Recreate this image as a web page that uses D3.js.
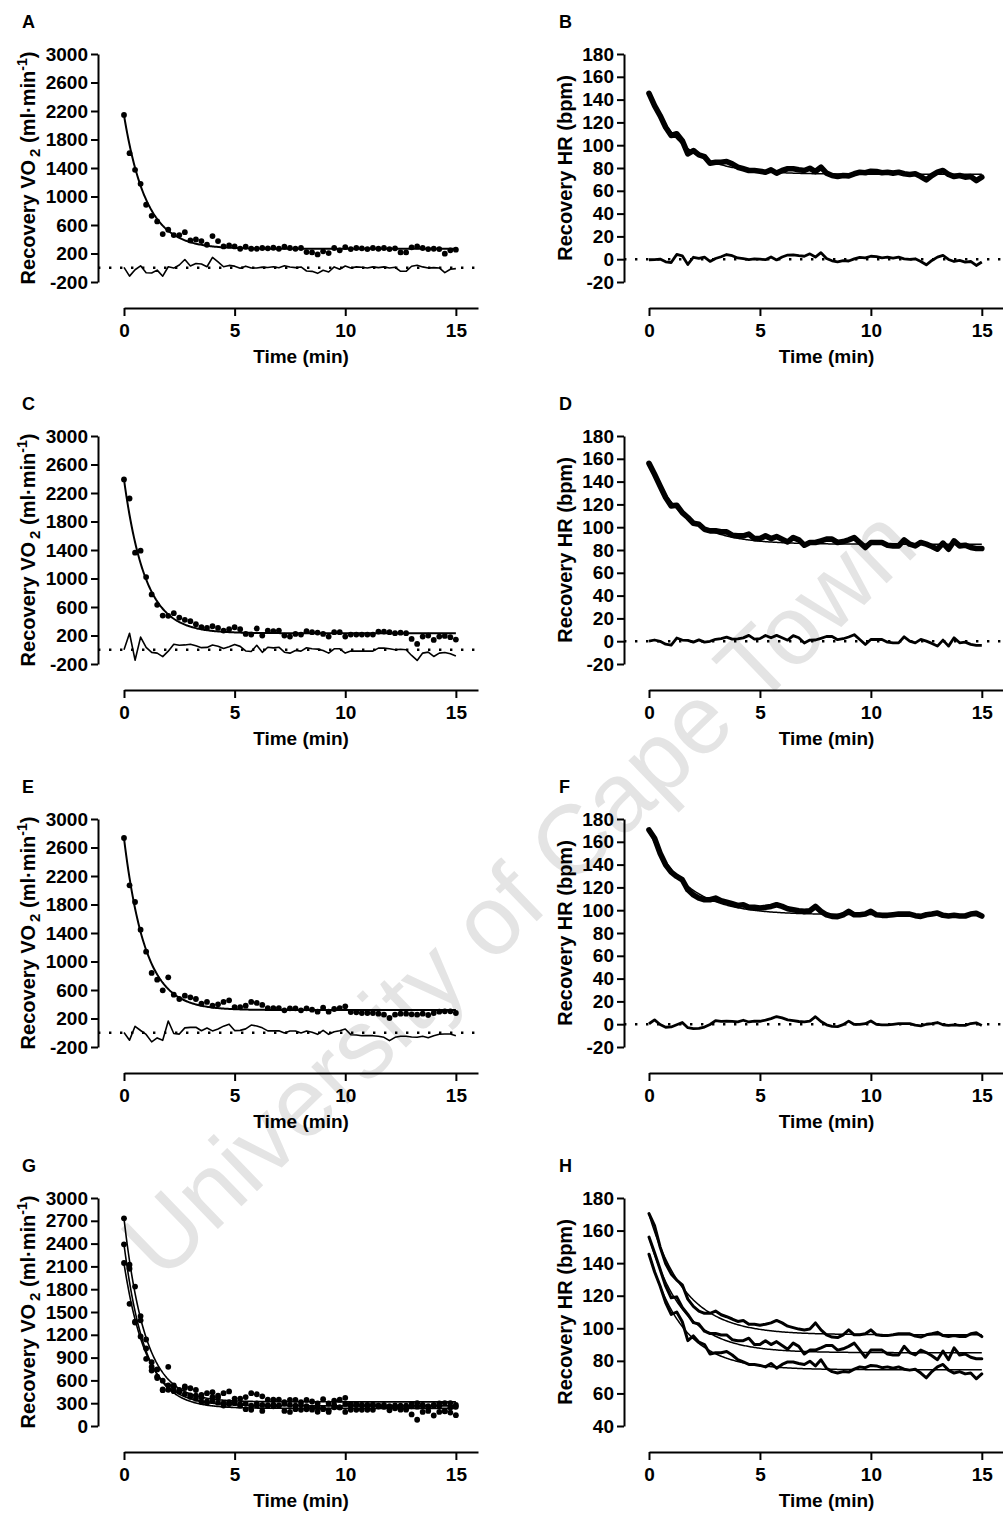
<!DOCTYPE html>
<html>
<head>
<meta charset="utf-8">
<script src="https://cdn.jsdelivr.net/npm/d3@7"></script>
<style>
	body { margin: 0; background: #ffffff; }
	svg text { font-family: 'Liberation Sans', Arial, sans-serif; font-weight: bold; fill: #000000; }
</style>
</head>
<body>
<svg id="chart" width="1003" height="1513"></svg>
<script>

// sample times (min), one value every 15 s
var aTime = [0,0.25,0.5,0.75,1,1.25,1.5,1.75,2,2.25,2.5,2.75,3,3.25,3.5,3.75,4,4.25,4.5,4.75,5,5.25,5.5,5.75,6,6.25,6.5,6.75,7,7.25,7.5,7.75,8,8.25,8.5,8.75,9,9.25,9.5,9.75,10,10.25,10.5,10.75,11,11.25,11.5,11.75,12,12.25,12.5,12.75,13,13.25,13.5,13.75,14,14.25,14.5,14.75,15];

// recovery VO2 (ml/min), panels A, C, E
var aVo2A = [2145,1608,1374,1178,884,729,650,472,533,458,458,500,384,398,374,323,444,374,300,314,300,267,295,267,267,277,272,281,267,295,277,267,277,220,215,187,230,206,277,244,290,262,277,272,262,277,267,277,262,272,215,215,286,300,277,262,267,262,197,244,253];
var aVo2C = [2390,2123,1362,1391,1020,776,631,480,476,513,452,420,401,358,316,307,330,307,269,288,316,288,222,213,298,199,269,260,269,199,185,222,213,260,246,241,222,185,246,246,185,213,213,213,213,213,255,255,246,232,240,232,152,82,185,199,138,185,194,176,143];
var aVo2E = [2733,2069,1835,1447,1138,839,745,596,778,535,474,521,497,474,408,432,380,399,432,455,361,361,380,432,418,390,347,347,347,315,343,343,315,343,324,296,352,296,333,347,371,291,287,277,277,277,268,254,207,254,268,268,259,254,268,249,277,296,301,301,277];

// recovery HR (bpm), panels B, D, F
var aHrB = [145.5,134.7,126,115.8,108.5,110,104,92.4,95.3,91.5,90,84.2,85,85,85.7,83.6,80.7,79.3,77.8,77.8,77.2,76.3,78.4,75.5,77.8,79.3,79.3,78.4,77.8,79.8,76.9,80.7,75.5,73.4,72.5,73.4,73.1,74.9,76.3,75.8,77.2,76.9,75.8,76.3,75.5,76.3,74.9,74.3,74.9,72.5,69.6,73.4,76.3,77.8,74.3,72.5,73.4,72,72.5,69,72];
var aHrD = [156,146.4,136.2,126,118.7,119.3,112.8,108.5,103.5,102.6,98.2,96.8,96.8,95.9,95.9,93,92.4,92.4,93.9,90,90,92.4,90,91.8,89.5,87.1,90.9,88.9,84.2,86.6,86.6,88,89.5,89.5,86.6,87.4,88.9,90.9,86.6,82.2,86.6,86.6,86.6,84.2,83.6,83.6,88.9,85.1,83.6,86.6,85.1,83.1,80.7,86,80.7,88,83.6,84.2,82.2,81.3,81.3];
var aHrF = [170.4,163.1,150,139.8,133.4,129.6,126.7,117.9,113.5,110.6,109.2,109.2,110.6,108.3,107.1,105.7,104.2,104.8,102.5,102.5,101.9,102.5,103.3,104.8,103.3,101.3,100.4,99.5,99,99.5,103.3,99,96,94.6,94.3,96,99,96,96,96.6,99,96,95.5,95.5,96,96.6,96.6,96.6,95.2,94.6,96,96.6,97.5,95.5,94.9,95.5,94.9,94.9,96.6,97.2,94.9];

// one-phase decay fits: start value, plateau, rate constant (1/min)
var aVo2FitStart = [2140, 2390, 2730];
var aVo2FitPlateau = [265, 232, 318];
var aVo2FitRate = [1.0, 1.05, 1.05];
var aHrFitStart = [146, 156, 170];
var aHrFitPlateau = [74.5, 85, 96];
var aHrFitRate = [0.66, 0.65, 0.62];

// axis ticks
var aTimeTicks = [0, 5, 10, 15];
var aVo2Ticks = [-200, 200, 600, 1000, 1400, 1800, 2200, 2600, 3000];
var aVo2TicksPooled = [0, 300, 600, 900, 1200, 1500, 1800, 2100, 2400, 2700, 3000];
var aHrTicks = [-20, 0, 20, 40, 60, 80, 100, 120, 140, 160, 180];
var aHrTicksPooled = [40, 60, 80, 100, 120, 140, 160, 180];

var aVo2Series = [aVo2A, aVo2C, aVo2E];
var aHrSeries = [aHrB, aHrD, aHrF];

// layout
var aRowTop = [54, 436, 819, 1198];
var nPlotHeight = 228;
var aColAxisX = [98, 624];
var aColPlotLeft = [124, 649];
var aColPlotRight = [478, 1004];
var aColLetterX = [22, 559];
var aColTitleX = [34.5, 572];

var aPanels = [
	{ letter: 'A', col: 0, row: 0, measure: 'vo2', series: [0], yDomain: [-200, 3000], yTicks: aVo2Ticks, residual: true },
	{ letter: 'B', col: 1, row: 0, measure: 'hr', series: [0], yDomain: [-20, 180], yTicks: aHrTicks, residual: true },
	{ letter: 'C', col: 0, row: 1, measure: 'vo2', series: [1], yDomain: [-200, 3000], yTicks: aVo2Ticks, residual: true },
	{ letter: 'D', col: 1, row: 1, measure: 'hr', series: [1], yDomain: [-20, 180], yTicks: aHrTicks, residual: true },
	{ letter: 'E', col: 0, row: 2, measure: 'vo2', series: [2], yDomain: [-200, 3000], yTicks: aVo2Ticks, residual: true },
	{ letter: 'F', col: 1, row: 2, measure: 'hr', series: [2], yDomain: [-20, 180], yTicks: aHrTicks, residual: true },
	{ letter: 'G', col: 0, row: 3, measure: 'vo2', series: [0, 1, 2], yDomain: [0, 3000], yTicks: aVo2TicksPooled, residual: false },
	{ letter: 'H', col: 1, row: 3, measure: 'hr', series: [0, 1, 2], yDomain: [40, 180], yTicks: aHrTicksPooled, residual: false }
];

function CalcFit(fStart, fPlateau, fRate, t)
{
	return fPlateau + (fStart - fPlateau) * Math.exp(-fRate * t);
}

function FormatTick(d)
{
	// plain hyphen for negatives, no thousands separator
	return String(d);
}

function StyleAxis(sAxis)
{
	sAxis.select('.domain').attr('stroke', '#000').attr('stroke-width', 2);
	sAxis.selectAll('.tick line').attr('stroke', '#000').attr('stroke-width', 2);
	sAxis.selectAll('.tick text')
		.style('font-size', '19px')
		.style('font-family', "'Liberation Sans', Arial, sans-serif");
}

function DrawPanel(sSvg, oPanel)
{
	var nCol = oPanel.col;
	var nTop = aRowTop[oPanel.row];
	var nBottom = nTop + nPlotHeight;
	var nAxisX = aColAxisX[nCol];
	var nAxisY = nBottom + 26;
	var bVo2 = oPanel.measure == 'vo2';
	var bPooled = oPanel.series.length > 1;

	var xScale = d3.scaleLinear().domain([0, 16]).range([aColPlotLeft[nCol], aColPlotRight[nCol]]);
	var yScale = d3.scaleLinear().domain(oPanel.yDomain).range([nBottom, nTop]);

	var sPanel = sSvg.append('g').attr('class', 'panel-' + oPanel.letter);

	sPanel.append('text')
		.attr('x', aColLetterX[nCol])
		.attr('y', nTop - 26)
		.style('font-size', '18px')
		.text(oPanel.letter);

	var sAxisLeft = sPanel.append('g')
		.attr('transform', 'translate(' + nAxisX + ',0)')
		.call(d3.axisLeft(yScale).tickValues(oPanel.yTicks).tickFormat(FormatTick).tickSize(7).tickPadding(3).tickSizeOuter(0));
	StyleAxis(sAxisLeft);

	var sAxisBottom = sPanel.append('g')
		.attr('transform', 'translate(0,' + nAxisY + ')')
		.call(d3.axisBottom(xScale).tickValues(aTimeTicks).tickFormat(FormatTick).tickSize(8).tickPadding(8).tickSizeOuter(0));
	StyleAxis(sAxisBottom);

	sPanel.append('text')
		.attr('x', (aColPlotLeft[nCol] + aColPlotRight[nCol]) / 2)
		.attr('y', nAxisY + 55)
		.attr('text-anchor', 'middle')
		.style('font-size', '19px')
		.text('Time (min)');

	var sTitle = sPanel.append('text')
		.attr('transform', 'translate(' + aColTitleX[nCol] + ',' + ((nTop + nBottom) / 2) + ') rotate(-90)')
		.attr('text-anchor', 'middle')
		.style('font-size', '20px');
	if (bVo2)
	{
		sTitle.append('tspan').text('Recovery VO');
		sTitle.append('tspan').attr('dx', 3).attr('dy', 5).style('font-size', '15px').text('2');
		sTitle.append('tspan').attr('dy', -5).text(' (ml\u00b7min');
		sTitle.append('tspan').attr('dy', -8).style('font-size', '14px').text('-1');
		sTitle.append('tspan').attr('dy', 8).text(')');
	}
	else
	{
		sTitle.text('Recovery HR (bpm)');
	}

	var fnLine = d3.line()
		.x(function(d) { return xScale(d[0]); })
		.y(function(d) { return yScale(d[1]); });

	if (oPanel.residual)
	{
		sPanel.append('line')
			.attr('x1', nAxisX)
			.attr('x2', xScale(16))
			.attr('y1', yScale(0))
			.attr('y2', yScale(0))
			.attr('stroke', '#000')
			.attr('stroke-width', 2.4)
			.attr('stroke-dasharray', '2.4,8.6');
	}

	var aFitTime = d3.range(0, 15.0001, 0.05);

	oPanel.series.forEach(function(nIdx)
	{
		var aValues = bVo2 ? aVo2Series[nIdx] : aHrSeries[nIdx];
		var fStart = bVo2 ? aVo2FitStart[nIdx] : aHrFitStart[nIdx];
		var fPlateau = bVo2 ? aVo2FitPlateau[nIdx] : aHrFitPlateau[nIdx];
		var fRate = bVo2 ? aVo2FitRate[nIdx] : aHrFitRate[nIdx];

		var aPoints = aTime.map(function(t, i) { return [t, aValues[i]]; });
		var aFit = aFitTime.map(function(t) { return [t, CalcFit(fStart, fPlateau, fRate, t)]; });
		var aResidual = aTime.map(function(t, i) { return [t, aValues[i] - CalcFit(fStart, fPlateau, fRate, t)]; });

		if (oPanel.residual)
		{
			sPanel.append('path')
				.attr('d', fnLine(aResidual))
				.attr('fill', 'none')
				.attr('stroke', '#000')
				.attr('stroke-width', bVo2 ? 1.6 : 2.8)
				.attr('stroke-linejoin', 'round');
		}

		if (bVo2)
		{
			sPanel.append('path')
				.attr('d', fnLine(aFit))
				.attr('fill', 'none')
				.attr('stroke', '#000')
				.attr('stroke-width', bPooled ? 1.6 : 2);

			sPanel.selectAll('.dot-' + nIdx)
				.data(aPoints)
				.enter()
					.append('circle')
					.attr('class', 'dot-' + nIdx)
					.attr('cx', function(d) { return xScale(d[0]); })
					.attr('cy', function(d) { return yScale(d[1]); })
					.attr('r', 2.9)
					.attr('fill', '#000');
		}
		else
		{
			sPanel.append('path')
				.attr('d', fnLine(aPoints))
				.attr('fill', 'none')
				.attr('stroke', '#000')
				.attr('stroke-width', bPooled ? 3 : 5.6)
				.attr('stroke-linejoin', 'round')
				.attr('stroke-linecap', 'round');

			sPanel.append('path')
				.attr('d', fnLine(aFit))
				.attr('fill', 'none')
				.attr('stroke', '#000')
				.attr('stroke-width', 1.5);
		}
	});
}

var sSvg = d3.select('#chart');

// watermark behind the panels
sSvg.append('text')
	.attr('transform', 'translate(518,892) rotate(-44)')
	.attr('text-anchor', 'middle')
	.attr('dominant-baseline', 'central')
	.style('font-size', '98px')
	.style('font-weight', 'normal')
	.style('fill', '#e4e4e4')
	.text('University of Cape Town');

aPanels.forEach(function(oPanel)
{
	DrawPanel(sSvg, oPanel);
});

</script>
</body>
</html>
